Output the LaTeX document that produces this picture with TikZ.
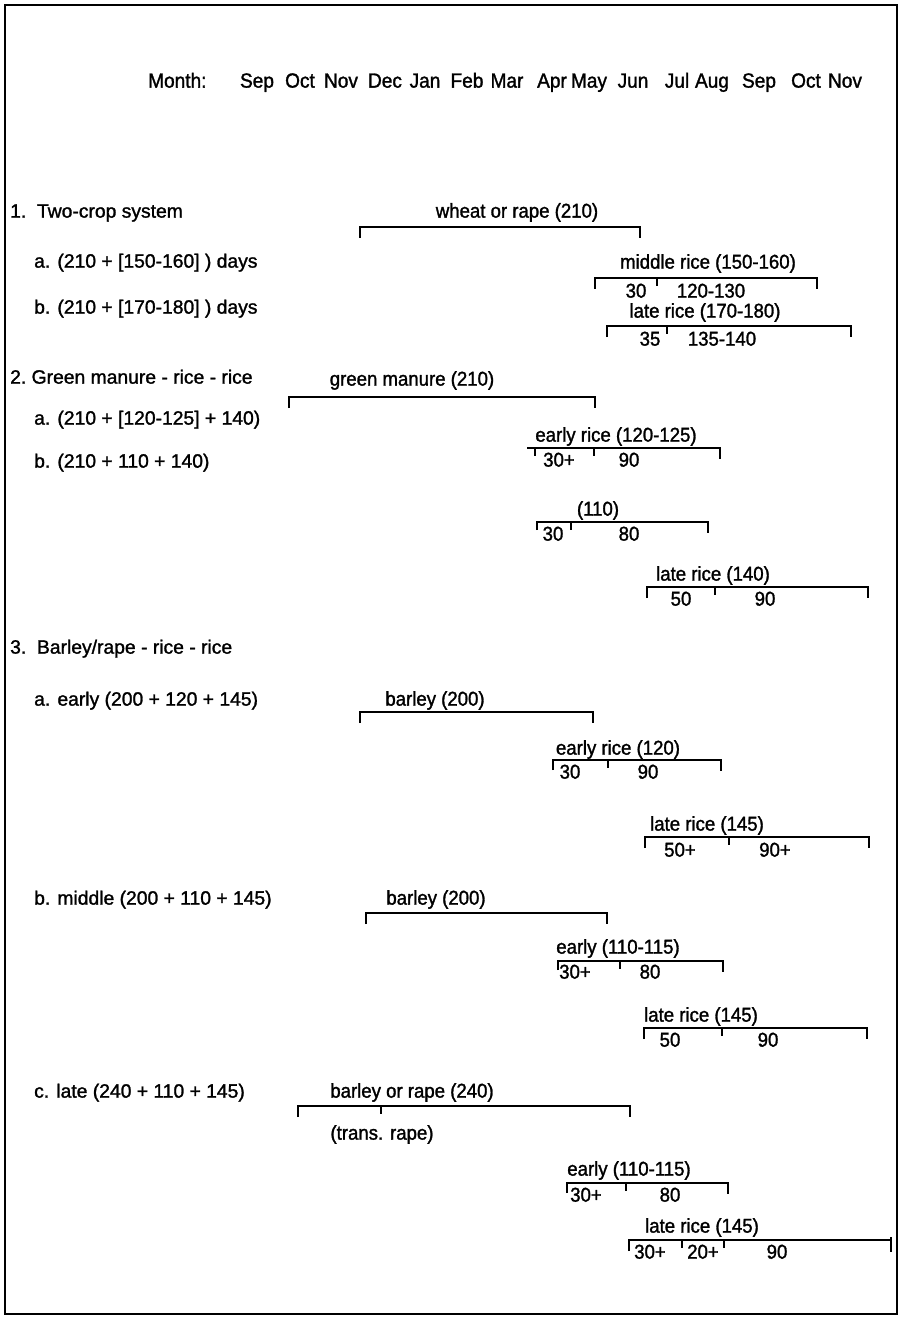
\documentclass[tikz,border=0pt]{standalone}
\usepackage{fontspec}
\setmainfont{Liberation Sans}
\newfontfamily\chartfont[FakeStretch=0.93,FakeBold=1.4]{Liberation Sans}
\newfontfamily\sidefont[FakeBold=1.4]{Liberation Sans}

% a crop period: horizontal bar with a downward tick at each end
\newcommand\cropbar[3]{%
  \draw[bar] (#1,#3+11) -- (#1,#3) -- (#2,#3) -- (#2,#3+11);}
% a division inside a crop period
\newcommand\midtick[2]{\draw[bar] (#1,#2) -- (#1,#2+8);}

\begin{document}
\begin{tikzpicture}[x=1pt,y=-1pt,
  txt/.style={font=\chartfont\fontsize{20}{23}\selectfont, inner sep=0pt, anchor=mid, yshift=-3pt},
  head/.style={txt, font=\chartfont\fontsize{20.5}{23}\selectfont},
  side/.style={font=\sidefont\fontsize{19.3}{23}\selectfont, inner sep=0pt, anchor=mid west, yshift=-3pt},
  bar/.style={line width=1.6pt, line cap=butt, line join=miter},
  frame/.style={line width=2.2pt}]
\useasboundingbox (0,0) rectangle (903,1321);
\draw[frame] (5,5) rectangle (897,1314);

% month scale
\node[head, anchor=mid west] (month) at (148,82) {Month:};
\node[head] (m1)  at (257,82) {Sep};
\node[head] (m2)  at (300,82) {Oct};
\node[head] (m3)  at (341,82) {Nov};
\node[head] (m4)  at (385,82) {Dec};
\node[head] (m5)  at (425,82) {Jan};
\node[head] (m6)  at (467,82) {Feb};
\node[head] (m7)  at (507,82) {Mar};
\node[head] (m8)  at (552,82) {Apr};
\node[head] (m9)  at (589,82) {May};
\node[head] (m10) at (633,82) {Jun};
\node[head] (m11) at (677,82) {Jul};
\node[head] (m12) at (712,82) {Aug};
\node[head] (m13) at (759,82) {Sep};
\node[head] (m14) at (806,82) {Oct};
\node[head] (m15) at (845,82) {Nov};

% 1. two-crop system
\node[side] (s1)  at (10,212) {1.\ \ Two-crop system};
\node[side] (s1a) at (34,262) {a. (210 + [150-160] ) days};
\node[side] (s1b) at (34,308) {b. (210 + [170-180] ) days};

\node[txt] (wheat) at (517,212) {wheat or rape (210)};
\cropbar{360}{640}{227}

\node[txt] (mrice) at (708,263) {middle rice (150-160)};
\cropbar{595}{817}{278}
\midtick{657}{278}
\node[txt] (mr1) at (636,292) {30};
\node[txt] (mr2) at (711,292) {120-130};

\node[txt] (lrice1) at (705,312) {late rice (170-180)};
\cropbar{607}{851}{326}
\midtick{667}{326}
\node[txt] (lr1) at (650,340) {35};
\node[txt] (lr2) at (722,340) {135-140};

% 2. green manure - rice - rice
\node[side] (s2)  at (10,378) {2.\ Green manure - rice - rice};
\node[side] (s2a) at (34,419) {a. (210 + [120-125] + 140)};
\node[side] (s2b) at (34,462) {b. (210 + 110 + 140)};

\node[txt] (gman) at (412,380) {green manure (210)};
\cropbar{289}{595}{397}

\node[txt] (erice1) at (616,436) {early rice (120-125)};
\draw[bar] (527,448) -- (720,448) -- (720,459);
\draw[bar] (535,448) -- (535,456);
\midtick{594}{448}
\node[txt] (er1) at (559,461) {30+};
\node[txt] (er2) at (629,461) {90};

\node[txt] (r110) at (598,510) {(110)};
\draw[bar] (537,530) -- (537,522) -- (708,522) -- (708,533);
\midtick{571}{522}
\node[txt] (ra1) at (553,535) {30};
\node[txt] (ra2) at (629,535) {80};

\node[txt] (lrice2) at (713,575) {late rice (140)};
\cropbar{647}{868}{587}
\midtick{715}{587}
\node[txt] (lb1) at (681,600) {50};
\node[txt] (lb2) at (765,600) {90};

% 3. barley/rape - rice - rice
\node[side] (s3)  at (10,648) {3.\ \ Barley/rape - rice - rice};

% a. early
\node[side] (s3a) at (34,700) {a. early (200 + 120 + 145)};
\node[txt] (bar1) at (435,700) {barley (200)};
\cropbar{360}{593}{712}

\node[txt] (erice2) at (618,749) {early rice (120)};
\draw[bar] (553,770) -- (553,760) -- (721,760) -- (721,771);
\midtick{608}{760}
\node[txt] (ec1) at (570,773) {30};
\node[txt] (ec2) at (648,773) {90};

\node[txt] (lrice3) at (707,825) {late rice (145)};
\cropbar{645}{869}{837}
\midtick{729}{837}
\node[txt] (ld1) at (680,851) {50+};
\node[txt] (ld2) at (775,851) {90+};

% b. middle
\node[side] (s3b) at (34,899) {b. middle (200 + 110 + 145)};
\node[txt] (bar2) at (436,899) {barley (200)};
\cropbar{366}{607}{913}

\node[txt] (erice3) at (618,948) {early (110-115)};
\draw[bar] (558,970) -- (558,961) -- (723,961) -- (723,972);
\midtick{620}{961}
\node[txt] (ee1) at (575,973) {30+};
\node[txt] (ee2) at (650,973) {80};

\node[txt] (lrice4) at (701,1016) {late rice (145)};
\cropbar{644}{867}{1028}
\midtick{722}{1028}
\node[txt] (lf1) at (670,1041) {50};
\node[txt] (lf2) at (768,1041) {90};

% c. late
\node[side] (s3c) at (34,1092) {c. late (240 + 110 + 145)};
\node[txt] (bar3) at (412,1092) {barley or rape (240)};
\cropbar{298}{630}{1106}
\midtick{381}{1106}
\node[txt] (trans) at (382,1134) {(trans. rape)};

\node[txt] (erice4) at (629,1170) {early (110-115)};
\draw[bar] (567,1193) -- (567,1183) -- (728,1183) -- (728,1194);
\midtick{626}{1183}
\node[txt] (eg1) at (586,1196) {30+};
\node[txt] (eg2) at (670,1196) {80};

\node[txt] (lrice5) at (702,1227) {late rice (145)};
\draw[bar] (629,1251) -- (629,1240) -- (891,1240) -- (891,1252);
\draw[bar] (891,1237) -- (891,1240);
\midtick{682}{1240}
\midtick{724}{1240}
\node[txt] (lh1) at (650,1253) {30+};
\node[txt] (lh2) at (703,1253) {20+};
\node[txt] (lh3) at (777,1253) {90};
\end{tikzpicture}
\end{document}
